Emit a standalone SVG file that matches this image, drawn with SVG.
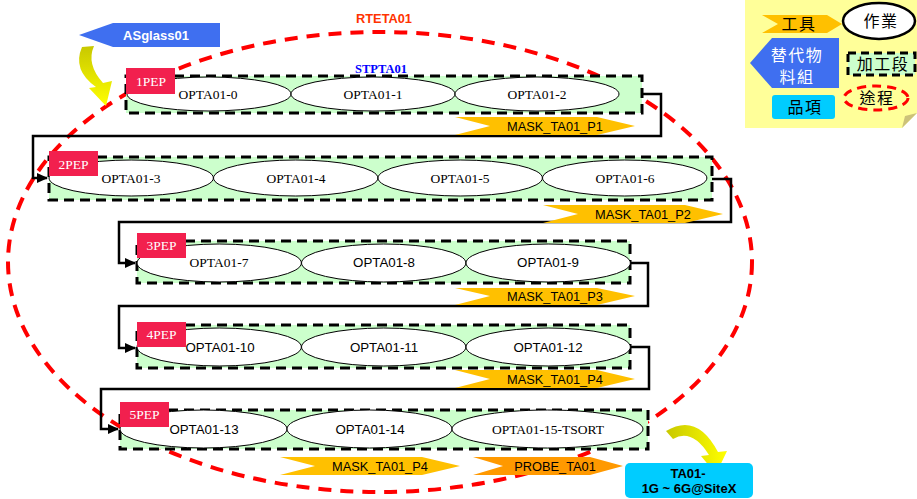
<svg xmlns="http://www.w3.org/2000/svg" width="917" height="499" viewBox="0 0 917 499">
  <style>
    .stage { fill: #CCFFCC; stroke: #000; stroke-width: 3; stroke-dasharray: 10 6; }
    .op { fill: #fff; stroke: #000; stroke-width: 1; }
    .opt { font-family: "Liberation Serif", serif; font-size: 13.5px; fill: #000; text-anchor: middle; }
    .ops { font-family: "Liberation Sans", sans-serif; font-size: 13.3px; fill: #000; text-anchor: middle; }
    .pep { fill: #F2204E; }
    .pept { font-family: "Liberation Serif", serif; font-size: 13.5px; fill: #fff; text-anchor: middle; }
    .tool { fill: #FFC000; }
    .probe { fill: #FF9900; }
    .toolt { font-family: "Liberation Sans", sans-serif; font-size: 12.8px; fill: #000; text-anchor: middle; }
    .link { fill: none; stroke: #000; stroke-width: 2.5; }
    .route { fill: none; stroke: #FF0000; stroke-width: 4; stroke-dasharray: 13 9; }
    .cjk { font-family: "Noto Sans CJK TC", "Noto Sans CJK SC", sans-serif; font-size: 16px; text-anchor: middle; letter-spacing: 1.5px; }
  </style>
  <defs>
    <marker id="arrow" markerUnits="userSpaceOnUse" markerWidth="12" markerHeight="12" refX="10" refY="6" orient="auto">
      <path d="M0,1 L11,6 L0,11 Z" fill="#000"/>
    </marker>
    <linearGradient id="bendTL" x1="0" y1="0" x2="0" y2="1">
      <stop offset="0" stop-color="#C8C800"/>
      <stop offset="1" stop-color="#FFFF00"/>
    </linearGradient>
    <linearGradient id="bendBR" x1="0" y1="0" x2="1" y2="0">
      <stop offset="0" stop-color="#C8C800"/>
      <stop offset="1" stop-color="#FFFF00"/>
    </linearGradient>
  </defs>

  <!-- routing boundary -->
  <g id="route-RTETA01">
    <ellipse class="route" cx="380" cy="262" rx="372" ry="230"/>
    <text x="384" y="23" font-family="Liberation Sans, sans-serif" font-size="12.8px" font-weight="bold" fill="#FF3300" text-anchor="middle">RTETA01</text>
  </g>

  <!-- source material -->
  <g id="material-ASglass01">
    <path d="M79,35 L113,23 L220,23 L220,47 L113,47 Z" fill="#3F6FF0"/>
    <text x="156" y="40" font-family="Liberation Sans, sans-serif" font-size="13px" font-weight="bold" fill="#fff" text-anchor="middle">ASglass01</text>
  </g>
  <path id="bend-in" d="M82,47 L94,46 Q86,64 103,83 L112,81 L106,106 L89,88 L96,87 Q72,70 82,47 Z" fill="url(#bendTL)"/>

  <!-- connectors between stages -->
  <g id="connectors">
    <path class="link" d="M642,94 H661 V136 H33 V178 H47" marker-end="url(#arrow)"/>
    <path class="link" d="M712,179 H731 V222 H119 V263 H135" marker-end="url(#arrow)"/>
    <path class="link" d="M630,263 H648 V306 H119 V348 H135" marker-end="url(#arrow)"/>
    <path class="link" d="M630,347 H649 V389 H101 V429 H118" marker-end="url(#arrow)"/>
  </g>

  <!-- stage 1 -->
  <g id="stage-1PEP">
    <rect class="stage" x="126" y="76" width="516" height="37"/>
    <ellipse class="op" cx="209" cy="94" rx="82" ry="17"/>
    <ellipse class="op" cx="373" cy="94" rx="82" ry="17"/>
    <ellipse class="op" cx="537" cy="94" rx="82" ry="17"/>
    <text class="opt" x="208" y="99">OPTA01-0</text>
    <text class="opt" x="373" y="99">OPTA01-1</text>
    <text class="opt" x="537" y="99">OPTA01-2</text>
    <rect class="pep" x="126" y="68" width="49" height="26"/>
    <text class="pept" x="151" y="86">1PEP</text>
    <text x="381" y="73" font-family="Liberation Serif, serif" font-size="12.5px" font-weight="bold" fill="#0000FF" text-anchor="middle">STPTA01</text>
  </g>

  <!-- stage 2 -->
  <g id="stage-2PEP">
    <rect class="stage" x="49" y="157" width="663" height="43"/>
    <ellipse class="op" cx="131.2" cy="178" rx="82.2" ry="18"/>
    <ellipse class="op" cx="295.7" cy="178" rx="82.2" ry="18"/>
    <ellipse class="op" cx="460.2" cy="178" rx="82.2" ry="18"/>
    <ellipse class="op" cx="624.7" cy="178" rx="82.2" ry="18"/>
    <text class="opt" x="131" y="183">OPTA01-3</text>
    <text class="opt" x="296" y="183">OPTA01-4</text>
    <text class="opt" x="460" y="183">OPTA01-5</text>
    <text class="opt" x="625" y="183">OPTA01-6</text>
    <rect class="pep" x="49" y="151" width="49" height="25"/>
    <text class="pept" x="73.5" y="169">2PEP</text>
  </g>

  <!-- stage 3 -->
  <g id="stage-3PEP">
    <rect class="stage" x="137" y="241" width="493" height="42"/>
    <ellipse class="op" cx="219.2" cy="263" rx="82.2" ry="19"/>
    <ellipse class="op" cx="383.7" cy="263" rx="82.2" ry="19"/>
    <ellipse class="op" cx="548.2" cy="263" rx="82.2" ry="19"/>
    <text class="opt" x="219" y="267">OPTA01-7</text>
    <text class="ops" x="384" y="267">OPTA01-8</text>
    <text class="ops" x="548" y="267">OPTA01-9</text>
    <rect class="pep" x="137" y="233" width="49" height="25"/>
    <text class="pept" x="161.5" y="250">3PEP</text>
  </g>

  <!-- stage 4 -->
  <g id="stage-4PEP">
    <rect class="stage" x="137" y="325" width="493" height="43"/>
    <ellipse class="op" cx="219.2" cy="347" rx="82.2" ry="19"/>
    <ellipse class="op" cx="383.7" cy="347" rx="82.2" ry="19"/>
    <ellipse class="op" cx="548.2" cy="347" rx="82.2" ry="19"/>
    <text class="ops" x="220" y="352">OPTA01-10</text>
    <text class="ops" x="384" y="352">OPTA01-11</text>
    <text class="ops" x="548" y="352">OPTA01-12</text>
    <rect class="pep" x="137" y="322" width="49" height="25"/>
    <text class="pept" x="161.5" y="339">4PEP</text>
  </g>

  <!-- stage 5 -->
  <g id="stage-5PEP">
    <rect class="stage" x="120" y="410" width="528" height="39"/>
    <ellipse class="op" cx="203.5" cy="429" rx="83.5" ry="19"/>
    <ellipse class="op" cx="369.5" cy="429" rx="82.5" ry="19"/>
    <ellipse class="op" cx="547.5" cy="429" rx="95.5" ry="19"/>
    <text class="ops" x="204" y="434">OPTA01-13</text>
    <text class="ops" x="370" y="434">OPTA01-14</text>
    <text class="opt" x="548" y="434">OPTA01-15-TSORT</text>
    <rect class="pep" x="120" y="402" width="49" height="25"/>
    <text class="pept" x="144.5" y="419">5PEP</text>
  </g>

  <!-- tools -->
  <g id="tool-P1">
    <path class="tool" d="M455,117 L597,117 L635,126 L597,135 L455,135 L490,126 Z"/>
    <text class="toolt" x="555" y="131">MASK_TA01_P1</text>
  </g>
  <g id="tool-P2">
    <path class="tool" d="M543,205 L685,205 L723,214 L685,223 L543,223 L578,214 Z"/>
    <text class="toolt" x="643" y="219">MASK_TA01_P2</text>
  </g>
  <g id="tool-P3">
    <path class="tool" d="M455,288 L597,288 L635,296 L597,305 L455,305 L490,296 Z"/>
    <text class="toolt" x="555" y="301">MASK_TA01_P3</text>
  </g>
  <g id="tool-P4-a">
    <path class="tool" d="M455,370 L597,370 L635,379 L597,388 L455,388 L490,379 Z"/>
    <text class="toolt" x="555" y="384">MASK_TA01_P4</text>
  </g>
  <g id="tool-P4-b">
    <path class="tool" d="M280,457 L422,457 L460,466 L422,475 L280,475 L315,466 Z"/>
    <text class="toolt" x="380" y="471">MASK_TA01_P4</text>
  </g>
  <g id="tool-probe">
    <path class="probe" d="M473,457 L590,457 L623,466 L590,475 L473,475 L503,466 Z"/>
    <text class="toolt" x="555" y="471">PROBE_TA01</text>
  </g>

  <!-- output item -->
  <path id="bend-out" d="M666,431 Q697,412 718,452 L727,451 L716,474 L701,456 L709,455 Q692,428 673,439 Z" fill="url(#bendBR)"/>
  <g id="item-TA01">
    <rect x="625" y="463" width="128" height="35" rx="5" fill="#00CCFF"/>
    <text x="688" y="478" font-family="Liberation Sans, sans-serif" font-size="13px" font-weight="bold" fill="#000" text-anchor="middle">TA01-</text>
    <text x="689" y="493" font-family="Liberation Sans, sans-serif" font-size="13px" font-weight="bold" fill="#000" text-anchor="middle">1G ~ 6G@SiteX</text>
  </g>

  <!-- legend -->
  <g id="legend">
    <path d="M745,0 H917 V113 L902,128 H745 Z" fill="#FFFF99"/>
    <path d="M902,128 L917,113 L905,116 Z" fill="#CCC27A"/>
    <path class="tool" d="M762,15 L827,15 L842,24 L827,33 L762,33 L778,24 Z"/>
    <text class="cjk" x="799" y="30">工具</text>
    <ellipse cx="879" cy="21" rx="36" ry="18" fill="#fff" stroke="#000" stroke-width="2.5"/>
    <text class="cjk" x="881" y="27">作業</text>
    <path d="M750,63 L772,38 L839,38 L839,88 L772,88 Z" fill="#3F6FF0"/>
    <text class="cjk" x="797" y="61" fill="#fff" font-size="17px">替代物</text>
    <text class="cjk" x="797" y="83" fill="#fff" font-size="17px">料組</text>
    <rect x="848" y="53" width="67" height="22" fill="#CCFFCC" stroke="#000" stroke-width="3" stroke-dasharray="8 5"/>
    <text class="cjk" x="883" y="70">加工段</text>
    <ellipse cx="876" cy="98" rx="32" ry="12" fill="none" stroke="#FF0000" stroke-width="3" stroke-dasharray="9 6"/>
    <text class="cjk" x="877" y="104">途程</text>
    <rect x="772" y="95" width="63" height="24" rx="3" fill="#00CCFF"/>
    <text class="cjk" x="805" y="113">品項</text>
  </g>
</svg>
